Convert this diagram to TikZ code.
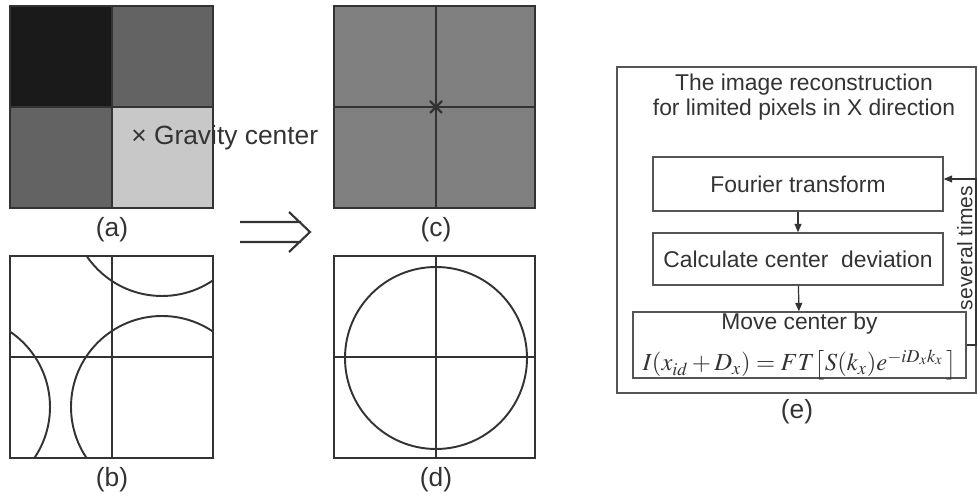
\documentclass[tikz,border=0pt]{standalone}
\usepackage{mathptmx}
\usepackage[no-math]{fontspec}
\setmainfont{Liberation Sans}
\usetikzlibrary{arrows.meta,positioning}
\definecolor{ink}{HTML}{333333}
\definecolor{rule}{HTML}{555555}
\definecolor{pxdark}{HTML}{1A1A1A}
\definecolor{pxmid}{HTML}{636363}
\definecolor{pxlight}{HTML}{C8C8C8}
\definecolor{pxavg}{HTML}{808080}

\begin{document}
\begin{tikzpicture}[x=0.02cm, y=-0.02cm,
  font=\fontsize{13}{14}\selectfont, text=ink,
  grid/.style={draw=ink, line width=0.6pt},
  ring/.style={draw=ink, line width=1.1pt},
  lbl/.style={font=\fontsize{15}{18}\selectfont, inner sep=0pt},
  b/.style={draw=rule, line width=0.8pt, align=center, inner sep=2pt,
            minimum width=#1},
  b/.default=5.8cm,
  arr/.style={-{Triangle[length=1.7mm, width=1.4mm]}, draw=ink, line width=0.7pt}]
\useasboundingbox (0,0) rectangle (977,499);
% (a) four pixels
\fill[pxdark] (10,6) rectangle (112,107);
\fill[pxmid] (112,6) rectangle (213,107);
\fill[pxmid] (10,107) rectangle (112,208);
\fill[pxlight] (112,107) rectangle (213,208);
\draw[grid] (10,6) rectangle (213,208) (112,6) -- (112,208) (10,107) -- (213,107);
\node[lbl, anchor=base west] (grav) at (131,145) {× Gravity center};
\node[lbl] (la) at (112,230) {(a)};
% arrow between rows
\draw[ink, line width=1.2pt] (240,222) -- (301,222) (240,242) -- (301,242)
  (289,212) -- (310,232) -- (289,252);
% (c) averaged pixel
\fill[pxavg] (334,6) rectangle (535,208);
\draw[grid] (334,6) rectangle (535,208) (436,6) -- (436,208) (334,107) -- (535,107);
\draw[ink, line width=1.3pt] (430,101) -- (442,113) (430,113) -- (442,101);
\node[lbl] (lc) at (436,230) {(c)};
% (b) spot before shift
\draw[grid] (10,256) rectangle (213,458) (112,256) -- (112,458) (10,357) -- (213,357);
\begin{scope}
  \clip (10,256) rectangle (213,458);
  \foreach \cx/\cy in {162/407, -41/407, 162/205}
    \draw[ring] (\cx,\cy) circle[radius=91];
\end{scope}
\node[lbl] (lb) at (112,480) {(b)};
% (d) spot after shift
\draw[grid] (334,256) rectangle (535,458) (436,256) -- (436,458) (334,357) -- (535,357);
\draw[ring] (436,358) circle[radius=91];
\node[lbl] (ld) at (436,480) {(d)};
% (e) flow
\draw[rule, line width=0.8pt] (617,67) rectangle (976,393);
\node[align=center] (ttl) at (804,97) {The image reconstruction\\for limited pixels in X direction};
\node[b, minimum height=1.08cm] (ft) at (798,184) {Fourier transform};
\node[b, minimum height=1.04cm] (cd) at (798,259) {Calculate center\ \ deviation};
\node[b=6.66cm, minimum height=1.32cm] (mv) at (799.5,345) {};
\node[anchor=base, inner sep=0pt] (mvt) at (799.5,330) {Move center by};
\node[anchor=base, inner sep=0pt, font=\fontsize{14}{14}\selectfont] (mvf) at (799.5,371)
  {$I(x_{id}+D_x)=FT\bigl[S(k_x)e^{-iD_xk_x}\,\bigr]$};
\coordinate (lp) at (976,179);
\draw[arr] (ft) -- (cd);
\draw[arr] (cd) -- (mv);
\draw[arr] (mv.east) -| (lp) -- (lp -| ft.east);
\node[rotate=90, anchor=south, inner sep=0pt, font=\fontsize{12}{14}\selectfont] (sev) at (973,248) {several times};
\node[lbl] (le) at (797,412) {(e)};
\end{tikzpicture}
\end{document}
